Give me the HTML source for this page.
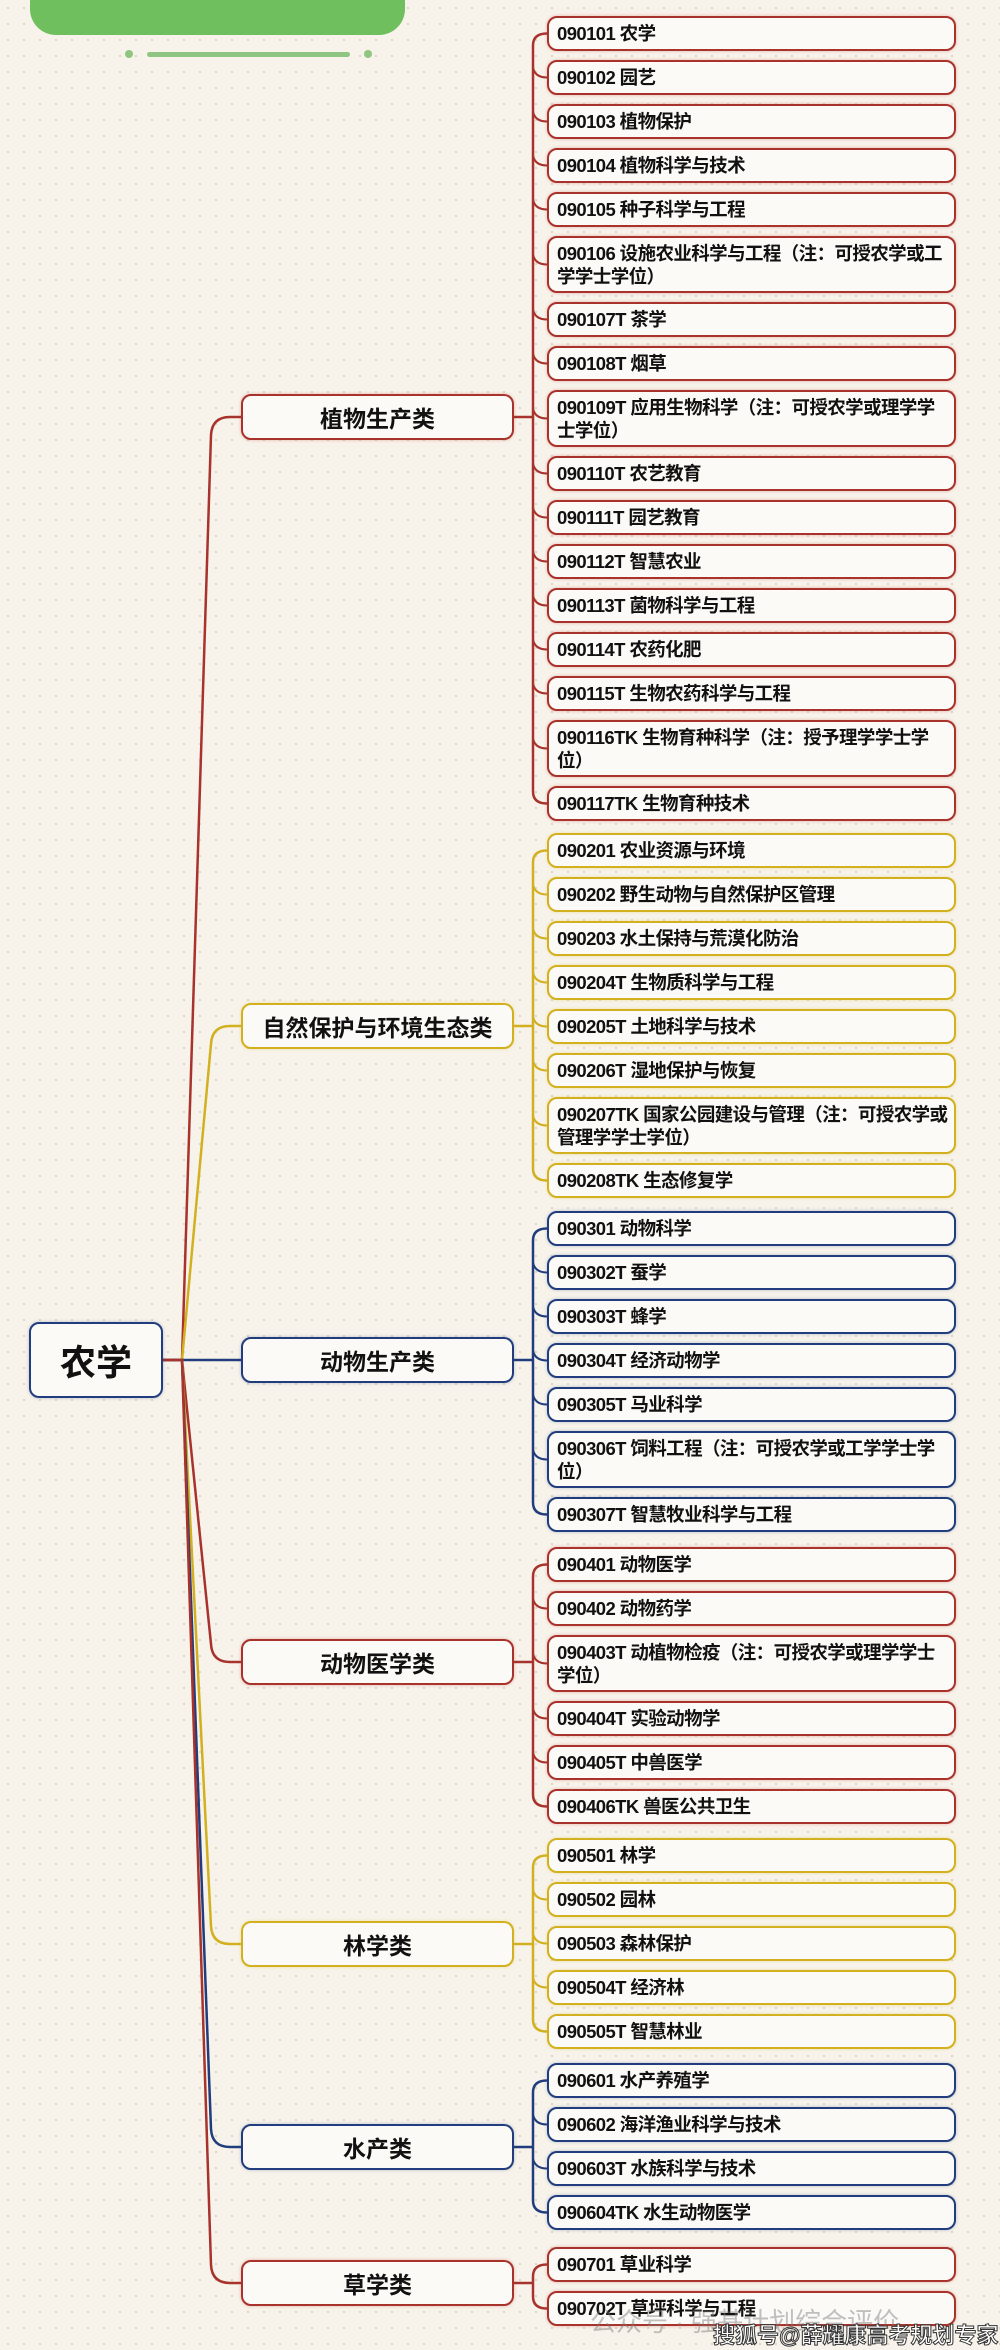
<!DOCTYPE html>
<html><head><meta charset="utf-8"><style>
html,body{margin:0;padding:0}
body{width:1000px;height:2350px;position:relative;overflow:hidden;background-color:#f7f3ea;background-image:radial-gradient(circle,#ddd6c8 1px,transparent 1.4px);background-size:16px 16px;font-family:"Liberation Sans","Noto Sans CJK SC",sans-serif}
.b{position:absolute;box-sizing:border-box;background:#fcfaf6;border:2.5px solid;border-radius:10px;color:#111;font-weight:bold}
.l{left:547px;width:409px;font-size:18.5px;letter-spacing:-0.6px;line-height:23px;padding:4px 6px 4px 8px;display:flex;align-items:center;word-break:break-all}
.c{left:241px;width:273px;height:46px;font-size:23px;display:flex;align-items:center;justify-content:center}
.r{border-color:#a8322c;box-shadow:0 0 3px rgba(200,60,50,.35)}
.y{border-color:#d2b020;box-shadow:0 0 3px rgba(220,190,40,.35)}
.u{border-color:#213d7d;box-shadow:0 0 3px rgba(40,70,140,.3)}
svg{position:absolute;left:0;top:0}
</style></head><body>
<div style="position:absolute;left:30px;top:-40px;width:375px;height:75px;background:#6fbf5e;border-radius:0 0 26px 26px"></div>
<div style="position:absolute;left:147px;top:52px;width:203px;height:5px;background:#8ec580;border-radius:3px"></div>
<div style="position:absolute;left:125px;top:50px;width:8px;height:8px;background:#8ec580;border-radius:50%"></div>
<div style="position:absolute;left:364px;top:50px;width:8px;height:8px;background:#8ec580;border-radius:50%"></div>
<svg id="s" width="1000" height="2350"></svg>
<div id="w"></div>
<div class="b u" style="left:29px;top:1322px;width:134px;height:76px;font-size:36px;display:flex;align-items:center;justify-content:center">农学</div>
<div style="position:absolute;left:590px;top:2302px;font-size:26px;color:rgba(120,120,120,.45)">公众号 · 强基计划综合评价</div>
<div style="position:absolute;left:713px;top:2318px;font-size:22px;color:#fff;font-weight:bold;-webkit-text-stroke:1px #333">搜狐号@薛耀康高考规划专家</div>
<script>
const G=[
["植物生产类",417,"r",["090101 农学","090102 园艺","090103 植物保护","090104 植物科学与技术","090105 种子科学与工程","090106 设施农业科学与工程（注：可授农学或工学学士学位）","090107T 茶学","090108T 烟草","090109T 应用生物科学（注：可授农学或理学学士学位）","090110T 农艺教育","090111T 园艺教育","090112T 智慧农业","090113T 菌物科学与工程","090114T 农药化肥","090115T 生物农药科学与工程","090116TK 生物育种科学（注：授予理学学士学位）","090117TK 生物育种技术"],16],
["自然保护与环境生态类",1026,"y",["090201 农业资源与环境","090202 野生动物与自然保护区管理","090203 水土保持与荒漠化防治","090204T 生物质科学与工程","090205T 土地科学与技术","090206T 湿地保护与恢复","090207TK 国家公园建设与管理（注：可授农学或管理学学士学位）","090208TK 生态修复学"],833],
["动物生产类",1360,"u",["090301 动物科学","090302T 蚕学","090303T 蜂学","090304T 经济动物学","090305T 马业科学","090306T 饲料工程（注：可授农学或工学学士学位）","090307T 智慧牧业科学与工程"],1211],
["动物医学类",1662,"r",["090401 动物医学","090402 动物药学","090403T 动植物检疫（注：可授农学或理学学士学位）","090404T 实验动物学","090405T 中兽医学","090406TK 兽医公共卫生"],1547],
["林学类",1944,"y",["090501 林学","090502 园林","090503 森林保护","090504T 经济林","090505T 智慧林业"],1838],
["水产类",2147,"u",["090601 水产养殖学","090602 海洋渔业科学与技术","090603T 水族科学与技术","090604TK 水生动物医学"],2063],
["草学类",2283,"r",["090701 草业科学","090702T 草坪科学与工程"],2247]];
const col={r:"#a8322c",y:"#d2b020",u:"#213d7d"};
let h="",svg="";
for(const [name,cy,k,items,top] of G){
 const c=col[k];
 h+=`<div class="b c ${k}" style="top:${cy-23}px">${name}</div>`;
 if(cy==1360) svg+=`<path d="M163,1360 L241,1360" fill="none" stroke="${c}" stroke-width="2.5"/>`;
 else{const s=cy<1360?-1:1;
 svg+=`<path d="M163,1360 L182,1360 L211,${cy-s*18} Q212,${cy} 230,${cy} L241,${cy}" fill="none" stroke="${c}" stroke-width="2.5"/>`;}
 let y=top,cs=[];
 for(const t of items){
  const dbl=t.includes("（");
  const hh=dbl?57:35;
  h+=`<div class="b l ${k}" style="top:${y}px;height:${hh}px">${t}</div>`;
  cs.push(y+hh/2);y+=hh+9;
 }
 svg+=`<path d="M514,${cy} L533,${cy}" stroke="${c}" stroke-width="2.5" fill="none"/>`;
 svg+=`<path d="M533,${cs[0]+12} L533,${cs[cs.length-1]-12}" stroke="${c}" stroke-width="2.5" fill="none"/>`;
 for(const v of cs){
  if(v<cs[0]+1)svg+=`<path d="M533,${v+12} Q533,${v} 547,${v}" stroke="${c}" stroke-width="2.5" fill="none"/>`;
  else if(v>cs[cs.length-1]-1)svg+=`<path d="M533,${v-12} Q533,${v} 547,${v}" stroke="${c}" stroke-width="2.5" fill="none"/>`;
  else svg+=`<path d="M533,${v-10} Q535,${v} 547,${v}" stroke="${c}" stroke-width="2" fill="none"/>`;
 }
}
document.getElementById("w").innerHTML=h;
document.getElementById("s").innerHTML=svg;
</script>
</body></html>
